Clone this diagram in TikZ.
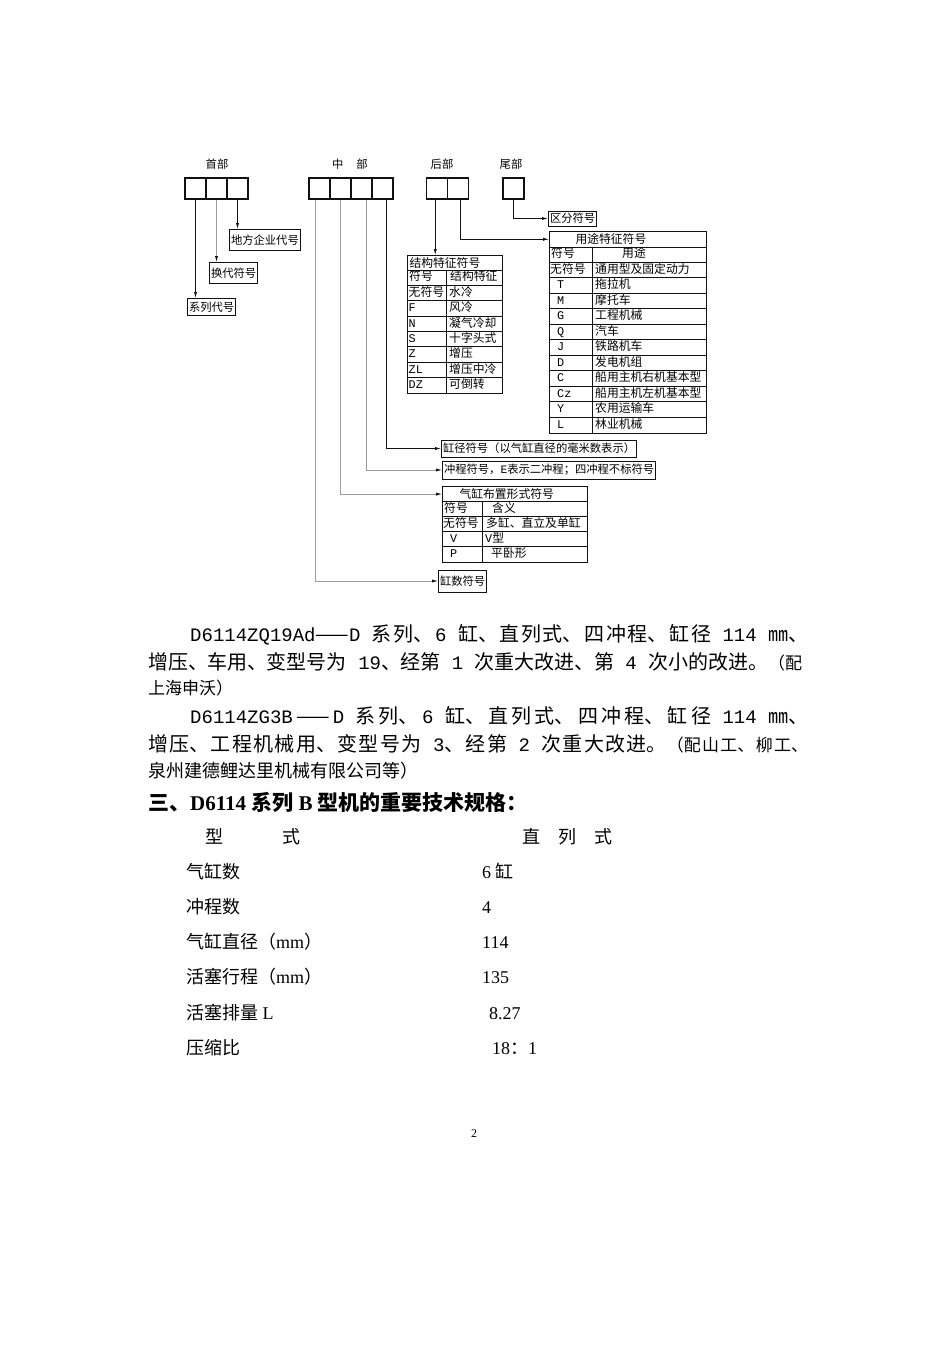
\documentclass[tikz,border=0pt]{standalone}
\usepackage{fontspec}
\setmainfont{Noto Sans CJK SC}
\setmonofont{Liberation Mono}
\newfontfamily\tms{Liberation Serif}
\usetikzlibrary{arrows.meta,positioning}
\definecolor{inkblack}{HTML}{111111}
\definecolor{linkgray}{HTML}{9C9C9C}
\newcommand{\chartfont}{\fontsize{11.3}{13}\selectfont}
\newcommand{\tabfont}{\fontsize{11.8}{13}\selectfont}
\newcommand{\bodyfont}{\fontsize{20}{24}\selectfont}
\newcommand{\smallbody}{\fontsize{17}{20}\selectfont}
\newcommand{\specfont}{\fontsize{18}{22}\selectfont}
\newcommand{\lt}[1]{{\ttfamily#1}}
\newcommand{\lb}[1]{{\ttfamily\fontsize{19}{24}\selectfont#1}}
\newcommand{\mono}[1]{\hspace{7pt}{\ttfamily#1}}
\newcommand{\gl}{\hspace{0pt plus 1fil minus 2pt}}

\begin{document}
\begin{tikzpicture}[x=1pt,y=-1pt,font=\chartfont,
  cell/.style={draw=inkblack,line width=1.2pt,minimum width=21pt,minimum height=21pt,inner sep=0pt},
  tag/.style={draw=inkblack,line width=1pt,inner xsep=1.5pt,inner ysep=0pt,minimum height=18pt},
  tab/.style={draw=inkblack,line width=1pt},
  txt/.style={inner sep=0pt,anchor=west,text height=9pt,text depth=2.5pt,font=\tabfont},
  link/.style={draw=inkblack,line width=0.8pt,-{Latex[length=6pt,width=3.2pt,color=inkblack]}},
  faint/.style={draw=linkgray},
  body/.style={inner sep=0pt,anchor=base west,font=\bodyfont},
  spec/.style={inner sep=0pt,anchor=base west,font=\specfont}]
  \fill[white] (0,0) rectangle (950,1345);
  \useasboundingbox (0,0) rectangle (950,1345);

  % code strip
  \node (shou) at (217,164) {首部};
  \node (zhong) at (350,164) {中\hspace{13pt}部};
  \node (hou) at (442,164) {后部};
  \node (wei) at (511,164) {尾部};
  \foreach \i in {1,2,3} \node[cell] (sb\i) at ({185+21*\i-10.5},188.5) {};
  \foreach \i in {1,...,4} \node[cell] (zb\i) at ({309+21*\i-10.5},188.5) {};
  \foreach \i in {1,2} \node[cell] (hb\i) at ({427+20.5*\i-10.25},188.5) {};
  \node[cell] (wb) at (513.5,188.5) {};

  % head part
  \node[tag,anchor=north west,minimum height=17pt] (xilie) at (187,298) {系列代号};
  \node[tag,anchor=north west,minimum height=21pt] (huandai) at (209,262) {换代符号};
  \node[tag,anchor=north west,minimum height=21pt] (difang) at (229,229) {地方企业代号};
  \draw[link] (sb1.south) -- (sb1.south |- xilie.north);
  \draw[link,faint] (sb2.south) -- (sb2.south |- huandai.north);
  \draw[link] (sb3.south) -- (sb3.south |- difang.north);

  % tail part
  \node[tag,anchor=west,minimum height=15pt] (qufen) at (548,218.5) {区分符号};
  \draw[link] (wb.south) |- (qufen.west);

  % structure table
  \node[tab,anchor=north west,minimum width=95pt,minimum height=15.33pt,text width=91pt,
    align=left,inner xsep=2pt,inner ysep=0pt,font=\tabfont] (jg) at (407,255) {结构特征符号};
  \draw[tab] (407,255) rectangle (502,393);
  \foreach \k in {2,...,8} \draw[tab] (407,{255+15.33*\k}) -- (502,{255+15.33*\k});
  \draw[tab] (446,270.33) -- (446,393);
  \node[txt] (jg-h1) at (409,277.7) {符号};
  \node[txt] (jg-h2) at (450,277.7) {结构特征};
  \foreach \s/\t [count=\i from 2] in {无符号/水冷, \lt{F}/风冷, \lt{N}/凝气冷却,
      \lt{S}/十字头式, \lt{Z}/增压, \lt{ZL}/增压中冷, \lt{DZ}/可倒转} {
    \node[txt] (jg-s\i) at (408.5,{255+15.33*(\i+0.5)}) {\s};
    \node[txt] (jg-t\i) at (449,{255+15.33*(\i+0.5)}) {\t};
  }

  % use table
  \node[tab,anchor=north west,minimum width=157pt,minimum height=15.54pt,text width=153pt,
    align=left,inner xsep=2pt,inner ysep=0pt,font=\tabfont] (yt) at (549,231) {\hspace{24pt}用途特征符号};
  \draw[tab] (549,231) rectangle (706,433);
  \foreach \k in {2,...,12} \draw[tab] (549,{231+15.54*\k}) -- (706,{231+15.54*\k});
  \draw[tab] (592,246.54) -- (592,433);
  \node[txt] (yt-h1) at (551,254.3) {符号};
  \node[txt] (yt-h2) at (622,254.3) {用途};
  \foreach \s/\t [count=\i from 2] in {无符号/通用型及固定动力, \mono{T}/拖拉机, \mono{M}/摩托车,
      \mono{G}/工程机械, \mono{Q}/汽车, \mono{J}/铁路机车, \mono{D}/发电机组,
      \mono{C}/船用主机右机基本型, \mono{Cz}/船用主机左机基本型, \mono{Y}/农用运输车, \mono{L}/林业机械} {
    \node[txt] (yt-s\i) at (550,{231+15.54*(\i+0.5)}) {\s};
    \node[txt] (yt-t\i) at (595,{231+15.54*(\i+0.5)}) {\t};
  }
  \coordinate (hl1) at ([xshift=-2pt]hb1.south);
  \coordinate (hl2) at ([xshift=3pt]hb2.south);
  \draw[link] (hl1) -- (hl1 |- jg.north);
  \draw[link] (hl2) |- (yt.west);

  % middle part
  \node[tag,anchor=west,minimum height=17pt] (gj) at (441,448.5) {缸径符号（以气缸直径的毫米数表示）};
  \node[tag,anchor=west] (cc) at (442,470) {冲程符号，\lt{E}表示二冲程；四冲程不标符号};
  \node[tab,anchor=north west,minimum width=145pt,minimum height=15.2pt,text width=141pt,
    align=left,inner xsep=2pt,inner ysep=0pt,font=\tabfont] (bz) at (442,486) {\hspace{15pt}气缸布置形式符号};
  \draw[tab] (442,486) rectangle (587,562);
  \foreach \k in {2,...,4} \draw[tab] (442,{486+15.2*\k}) -- (587,{486+15.2*\k});
  \draw[tab] (482,501.2) -- (482,562);
  \node[txt] (bz-h1) at (444,508.8) {符号};
  \node[txt] (bz-h2) at (492,508.8) {含义};
  \node[txt] (bz-s2) at (443,524) {无符号};
  \node[txt] (bz-t2) at (486,524) {多缸、直立及单缸};
  \node[txt] (bz-s3) at (443,539.2) {\mono{V}};
  \node[txt] (bz-t3) at (485,539.2) {\lt{V}型};
  \node[txt] (bz-s4) at (443,554.4) {\mono{P}};
  \node[txt] (bz-t4) at (491,554.4) {平卧形};
  \node[tag,anchor=west,minimum height=22pt] (gs) at (438,581) {缸数符号};
  \coordinate (zl1) at ([xshift=-4.5pt]zb1.south);
  \coordinate (zl2) at (zb2.south);
  \coordinate (zl3) at ([xshift=4.5pt]zb3.south);
  \coordinate (zl4) at ([xshift=3.5pt]zb4.south);
  \draw[link] (zl4) |- (gj.west);
  \draw[link,faint] (zl3) |- (cc.west);
  \draw[link,faint] (zl2) |- (bz.west);
  \draw[link,faint] (zl1) |- (gs.west);

  % text below
  \node[body] (p1) at (190,641) {\makebox[618pt][s]{\lb{D6114ZQ19Ad}——\lb{D~}系\gl 列、\gl\lb{6~}缸、\gl 直\gl 列\gl 式、\gl 四\gl 冲\gl 程、\gl 缸\gl 径\lb{~114~}㎜、}};
  \node[body] (p2) at (148,669.5) {\makebox[654pt][s]{增压、\gl 车用、\gl 变型号为\lb{~19}、\gl 经第\lb{~1~}次重大改进、\gl 第\lb{~4~}次小的改进。{\smallbody （配}}};
  \node[body,font=\smallbody] (p3) at (148,694) {上海申沃）};
  \node[body] (p4) at (190,723.5) {\makebox[618pt][s]{\lb{D6114ZG3B}\gl——\gl\lb{D~}系\gl 列、\gl\lb{6~}缸、\gl 直\gl 列\gl 式、\gl 四\gl 冲\gl 程、\gl 缸\gl 径\lb{~114~}㎜、}};
  \node[body] (p5) at (148,751.5) {\makebox[660pt][s]{增\gl 压、\gl 工\gl 程\gl 机\gl 械\gl 用、\gl 变\gl 型\gl 号\gl 为\lb{~3}、\gl 经\gl 第\lb{~2~}次\gl 重\gl 大\gl 改\gl 进。{\smallbody （配\gl 山\gl 工、\gl 柳\gl 工、}}};
  \node[body,font=\fontsize{18}{22}\selectfont] (p6) at (148,777.5) {泉州建德鲤达里机械有限公司等）};
  \node[body,font=\fontsize{21}{25}\selectfont\bfseries] (sec) at (148,810) {三、{\tms D6114~}系列{\tms ~B~}型机的重要技术规格：};

  \node[spec] (hd-l) at (205,843) {型\hspace{59pt}式};
  \node[spec] (hd-r) at (522,843) {直\hspace{18pt}列\hspace{18pt}式};
  \foreach \lab/\val/\vx [count=\i] in {气缸数/{\tms 6~}缸/482, 冲程数/{\tms 4}/482,
      气缸直径（{\tms mm}）/{\tms 114}/482, 活塞行程（{\tms mm}）/{\tms 135}/482,
      活塞排量{\tms~L}/{\tms 8.27}/489, 压缩比/{\tms 18}：{\tms 1}/492} {
    \node[spec] (sp-l\i) at (186,{843+35.2*\i}) {\lab};
    \node[spec] (sp-v\i) at (\vx,{843+35.2*\i}) {\val};
  }
  \node[inner sep=0pt,anchor=base,font=\tms\fontsize{12}{14}\selectfont] (pg) at (474,1137) {2};
\end{tikzpicture}
\end{document}
